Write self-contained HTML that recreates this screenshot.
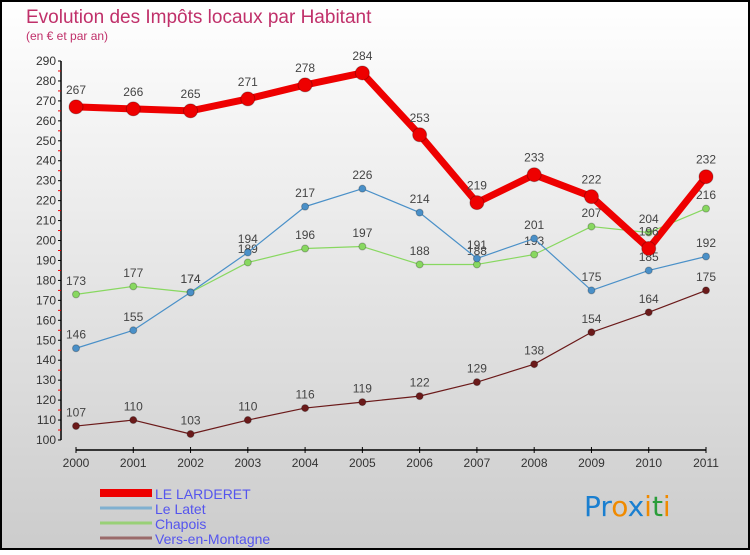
<!DOCTYPE html>
<html><head><meta charset="utf-8"><style>
body{margin:0;width:750px;height:550px;overflow:hidden;font-family:"Liberation Sans",sans-serif}
</style></head><body>
<svg id="c" width="750" height="550" xmlns="http://www.w3.org/2000/svg">
<defs><linearGradient id="bg" x1="0" y1="0" x2="0" y2="1"><stop offset="0" stop-color="#ffffff"/><stop offset="1" stop-color="#cccccc"/></linearGradient></defs>
<rect x="1" y="1" width="748" height="548" fill="url(#bg)" stroke="#000" stroke-width="2"/>
<text x="26" y="23" font-size="19" fill="#c0306a">Evolution des Impôts locaux par Habitant</text>
<text x="26" y="40" font-size="12" fill="#c0306a">(en € et par an)</text>
<g id="axes"></g><g id="series"></g><g id="legend"></g>
<text x="584" y="516" font-size="28" font-family="DejaVu Sans, sans-serif"><tspan fill="#1a7fd0">Pr</tspan><tspan fill="#f08a00">o</tspan><tspan fill="#1a7fd0">x</tspan><tspan fill="#f08a00">i</tspan><tspan fill="#2a9d3a">t</tspan><tspan fill="#f08a00">i</tspan></text>
</svg>
<script>
const years=[2000,2001,2002,2003,2004,2005,2006,2007,2008,2009,2010,2011];
const larderet=[267,266,265,271,278,284,253,219,233,222,196,232];
const latet=[146,155,174,194,217,226,214,191,201,175,185,192];
const chapois=[173,177,174,189,196,197,188,188,193,207,204,216];
const vers=[107,110,103,110,116,119,122,129,138,154,164,175];
const yTicks=[100,110,120,130,140,150,160,170,180,190,200,210,220,230,240,250,260,270,280,290];
const NS="http://www.w3.org/2000/svg";
const X=i=>76+i*(630/11);
const Y=v=>440-(v-100)*(379/190);
function mk(t,a,p){const e=document.createElementNS(NS,t);for(const k in a)e.setAttribute(k,a[k]);p.appendChild(e);return e;}
const ax=document.getElementById('axes');
let l=mk('line',{x1:61,y1:Y(100),x2:61,y2:Y(290),stroke:'#000','stroke-width':1.5},ax);


l=mk('line',{x1:76,y1:450,x2:706,y2:450,stroke:'#000','stroke-width':1.5},ax);


yTicks.forEach(v=>{
 mk('line',{x1:58,y1:Y(v),x2:61,y2:Y(v),stroke:'#000'},ax);
 if(v<290)mk('line',{x1:58,y1:Y(v+5),x2:61,y2:Y(v+5),stroke:'#e00'},ax);
 const t=mk('text',{x:56,y:Y(v)+4,'font-size':12,'text-anchor':'end',fill:'#333'},ax);t.textContent=v;
 
 
});
years.forEach((y,i)=>{
 mk('line',{x1:X(i),y1:447,x2:X(i),y2:453,stroke:'#000'},ax);
 const t=mk('text',{x:X(i),y:467,'font-size':12,'text-anchor':'middle',fill:'#333'},ax);t.textContent=y;
 
 
});
const S=document.getElementById('series');
function draw(d,col,w,r,name){
 const g=mk('g',{},S);
 
 
 const p=mk('polyline',{points:d.map((v,i)=>X(i)+','+Y(v)).join(' '),fill:'none',stroke:col,'stroke-width':w,'stroke-linejoin':'round'},g);
 
 
 d.forEach((v,i)=>{
  const c=mk('circle',{cx:X(i),cy:Y(v),r:r,fill:col,stroke:'#00000040'},g);
  
  
  const t=mk('text',{x:X(i),y:Y(v)-r-6,'font-size':12,'text-anchor':'middle',fill:'#444'},g);t.textContent=v;
  
  
 });
}
draw(vers,'#6b1a1a',1.2,3.5,'vers-en-montagne');
draw(chapois,'#88d860',1.2,3.5,'chapois');
draw(latet,'#4a90c8',1.2,3.5,'le-latet');
draw(larderet,'#ee0000',7,7,'le-larderet');
const L=document.getElementById('legend');
const names=['LE LARDERET','Le Latet','Chapois','Vers-en-Montagne'];
const cols=['#ee0000','#80b0d0','#99d077','#9a6a6a'];
const ws=[8,3,3,3];
names.forEach((n,i)=>{
 const y=493+i*15;
 const s=mk('line',{x1:100,y1:y,x2:152,y2:y,stroke:cols[i],'stroke-width':ws[i]},L);
 
 
 const t=mk('text',{x:155,y:y+6,'font-size':14,fill:'#5555ee'},L);t.textContent=n;
 
 
});
</script>
</body></html>
